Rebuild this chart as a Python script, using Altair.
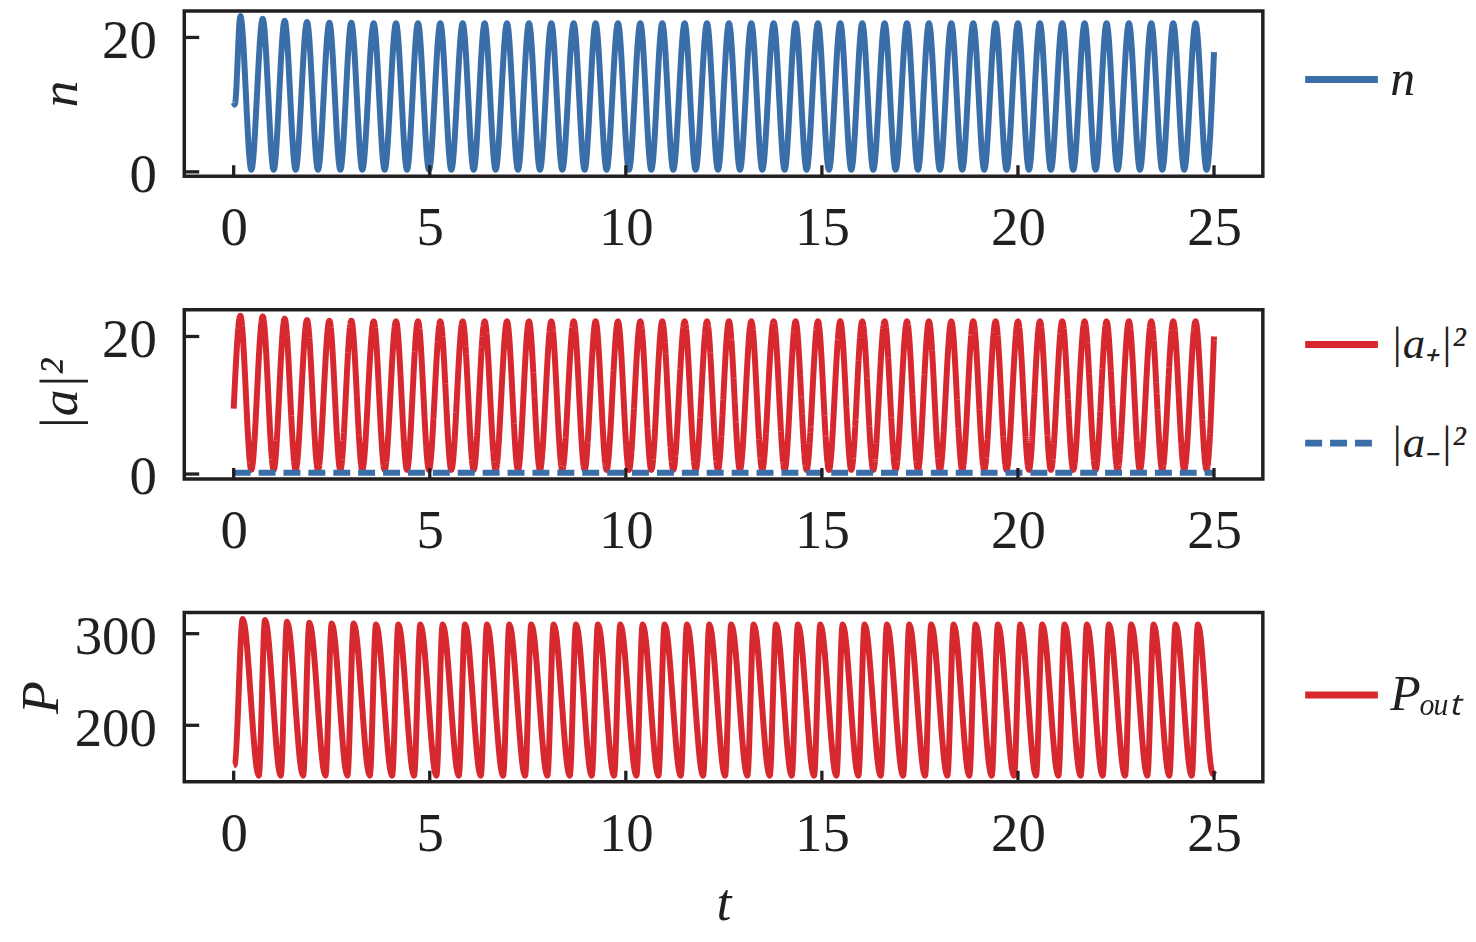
import altair as alt
import pandas as pd

INK = "#231f20"
BLUE = "#3a6ea8"
RED = "#d8282f"
SERIF = "Liberation Serif, Times New Roman, serif"

x_ticks = [0, 5, 10, 15, 20, 25]
n_yticks = [0, 20]
a_yticks = [0, 20]
p_yticks = [200, 300]

# ---- n(t): carrier number ----
n_start_t = [0.0, 0.03]
n_start_v = [10.3, 10.0]
n_peak_t = [0.17, 0.74, 1.30, 1.87, 2.44, 3.00, 3.57, 4.14, 4.70, 5.27, 5.84,
            6.40, 6.97, 7.53, 8.10, 8.67, 9.23, 9.80, 10.37, 10.93, 11.50, 12.07,
            12.63, 13.20, 13.77, 14.33, 14.90, 15.47, 16.03, 16.60, 17.17, 17.73,
            18.30, 18.86, 19.43, 20.00, 20.56, 21.13, 21.70, 22.26, 22.83, 23.40,
            23.96, 24.53]
n_peak_v = [23.2, 22.8, 22.5, 22.3, 22.2, 22.2, 22.1, 22.1, 22.1, 22.1, 22.1,
            22.1, 22.1, 22.1, 22.1, 22.1, 22.1, 22.1, 22.1, 22.1, 22.1, 22.1,
            22.1, 22.1, 22.1, 22.1, 22.1, 22.1, 22.1, 22.1, 22.1, 22.1, 22.1,
            22.1, 22.1, 22.1, 22.1, 22.1, 22.1, 22.1, 22.1, 22.1, 22.1, 22.1]
n_trough_t = [0.45, 1.02, 1.58, 2.15, 2.72, 3.28, 3.85, 4.42, 4.98, 5.55, 6.12,
              6.68, 7.25, 7.81, 8.38, 8.95, 9.51, 10.08, 10.65, 11.21, 11.78, 12.35,
              12.91, 13.48, 14.05, 14.61, 15.18, 15.75, 16.31, 16.88, 17.45, 18.01,
              18.58, 19.14, 19.71, 20.28, 20.84, 21.41, 21.98, 22.54, 23.11, 23.68,
              24.24, 24.81]
n_trough_v = [0.3, 0.3, 0.3, 0.3, 0.3, 0.3, 0.3, 0.3, 0.3, 0.3, 0.3,
              0.3, 0.3, 0.3, 0.3, 0.3, 0.3, 0.3, 0.3, 0.3, 0.3, 0.3,
              0.3, 0.3, 0.3, 0.3, 0.3, 0.3, 0.3, 0.3, 0.3, 0.3, 0.3,
              0.3, 0.3, 0.3, 0.3, 0.3, 0.3, 0.3, 0.3, 0.3, 0.3, 0.3]
n_end_t = [25.0]
n_end_v = [17.8]

# ---- |a+|^2 ----
ap_start_t = [0.0]
ap_start_v = [9.5]
ap_peak_t = n_peak_t
ap_peak_v = [23.0, 22.9, 22.6, 22.4, 22.3, 22.3, 22.2, 22.2, 22.2, 22.2, 22.2,
             22.2, 22.2, 22.2, 22.2, 22.2, 22.2, 22.2, 22.2, 22.2, 22.2, 22.2,
             22.2, 22.2, 22.2, 22.2, 22.2, 22.2, 22.2, 22.2, 22.2, 22.2, 22.2,
             22.2, 22.2, 22.2, 22.2, 22.2, 22.2, 22.2, 22.2, 22.2, 22.2, 22.2]
ap_trough_t = n_trough_t
ap_trough_v = [0.6, 0.6, 0.6, 0.6, 0.6, 0.6, 0.6, 0.6, 0.6, 0.6, 0.6,
               0.6, 0.6, 0.6, 0.6, 0.6, 0.6, 0.6, 0.6, 0.6, 0.6, 0.6,
               0.6, 0.6, 0.6, 0.6, 0.6, 0.6, 0.6, 0.6, 0.6, 0.6, 0.6,
               0.6, 0.6, 0.6, 0.6, 0.6, 0.6, 0.6, 0.6, 0.6, 0.6, 0.6]
ap_end_t = [25.0]
ap_end_v = [20.0]

# ---- |a-|^2 ----
am_t = [0.0, 25.0]
am_v = [0.2, 0.2]

# ---- P_out ----
p_start_t = [0.0, 0.03]
p_start_v = [156, 157]
p_peak_t = [0.23, 0.80, 1.36, 1.93, 2.50, 3.06, 3.63, 4.20, 4.76, 5.33, 5.90,
            6.46, 7.03, 7.59, 8.16, 8.73, 9.29, 9.86, 10.43, 10.99, 11.56, 12.13,
            12.69, 13.26, 13.83, 14.39, 14.96, 15.53, 16.09, 16.66, 17.23, 17.79,
            18.36, 18.92, 19.49, 20.06, 20.62, 21.19, 21.76, 22.32, 22.89, 23.46,
            24.02, 24.59]
p_peak_v = [316, 315, 313, 312, 311, 311, 310, 310, 310, 310, 310,
            310, 310, 310, 310, 310, 310, 310, 310, 310, 310, 310,
            310, 310, 310, 310, 310, 310, 310, 310, 310, 310, 310,
            310, 310, 310, 310, 310, 310, 310, 310, 310, 310, 310]
p_trough_t = [0.64, 1.20, 1.77, 2.34, 2.90, 3.47, 4.04, 4.60, 5.17, 5.74, 6.30,
              6.87, 7.43, 8.00, 8.57, 9.13, 9.70, 10.27, 10.83, 11.40, 11.97, 12.53,
              13.10, 13.67, 14.23, 14.80, 15.37, 15.93, 16.50, 17.07, 17.63, 18.20,
              18.76, 19.33, 19.90, 20.46, 21.03, 21.60, 22.16, 22.73, 23.30, 23.86,
              24.43, 24.97]
p_trough_v = [145, 145, 145, 145, 145, 145, 145, 145, 145, 145, 145,
              145, 145, 145, 145, 145, 145, 145, 145, 145, 145, 145,
              145, 145, 145, 145, 145, 145, 145, 145, 145, 145, 145,
              145, 145, 145, 145, 145, 145, 145, 145, 145, 145, 147]
p_end_t = [25.0]
p_end_v = [150]

S_N = "n"
S_AP = "|a\u208a|\u00b2"
S_AM = "|a\u208b|\u00b2"
S_P = "P\u2092\u1d64\u209c"


def series(name, *pairs):
    t, v = [], []
    for tt, vv in pairs:
        t += list(tt)
        v += list(vv)
    df = pd.DataFrame({"t": t, "v": v})
    df["s"] = name
    return df.sort_values("t").reset_index(drop=True)


df_n = series(S_N, (n_start_t, n_start_v), (n_peak_t, n_peak_v),
              (n_trough_t, n_trough_v), (n_end_t, n_end_v))
df_ap = series(S_AP, (ap_start_t, ap_start_v), (ap_peak_t, ap_peak_v),
               (ap_trough_t, ap_trough_v), (ap_end_t, ap_end_v))
df_am = series(S_AM, (am_t, am_v))
df_p = series(S_P, (p_start_t, p_start_v), (p_peak_t, p_peak_v),
              (p_trough_t, p_trough_v), (p_end_t, p_end_v))

W = 1083
XDOM = [-1.26, 26.245]
LW = 6


def legend(ly, fs):
    return alt.Legend(orient="none", legendX=1122, legendY=ly, title=None,
                      symbolType="stroke", symbolSize=5329, symbolStrokeWidth=7,
                      labelFont=SERIF, labelFontSize=fs, labelFontStyle="italic",
                      labelColor=INK, labelOffset=9, rowPadding=36, padding=0,
                      labelLimit=400)


def panel(layers_df, dom, rng, dashes, yticks, ydom, ytitle, ytx, ly, lfs, xtitle, H):
    if xtitle:
        xaxis = alt.Axis(values=x_ticks, title=xtitle, labelPadding=69,
                         labelBaseline="alphabetic", labelFlush=False,
                         titleY=138, titleBaseline="alphabetic")
    else:
        xaxis = alt.Axis(values=x_ticks, title=None, labelPadding=69,
                         labelBaseline="alphabetic", labelFlush=False)
    xenc = alt.X("t:Q", scale=alt.Scale(domain=XDOM, nice=False, zero=False), axis=xaxis)
    yaxis = alt.Axis(values=yticks, title=ytitle, labelPadding=28,
                     labelBaseline="top", labelOffset=-23,
                     titleX=ytx, titleY=H / 2, titleAngle=270, titleAlign="center",
                     titleBaseline="alphabetic")
    yenc = alt.Y("v:Q", scale=alt.Scale(domain=ydom, nice=False, zero=False), axis=yaxis)
    layers = []
    for d in layers_df:
        enc = dict(
            x=xenc, y=yenc,
            color=alt.Color("s:N", scale=alt.Scale(domain=dom, range=rng), legend=legend(ly, lfs)),
        )
        if dashes is not None:
            enc["strokeDash"] = alt.StrokeDash("s:N", scale=alt.Scale(domain=dom, range=dashes),
                                               legend=legend(ly, lfs))
        layers.append(alt.Chart(d).mark_line(strokeWidth=LW, interpolate="monotone").encode(**enc))
    xt = alt.Chart(pd.DataFrame({"t": x_ticks})).mark_rule(color=INK, strokeWidth=3.3).encode(
        x=xenc, y=alt.value(H), y2=alt.value(H - 11))
    yt = alt.Chart(pd.DataFrame({"v": yticks})).mark_rule(color=INK, strokeWidth=3.3).encode(
        y=yenc, x=alt.value(0), x2=alt.value(15))
    return alt.layer(*layers, xt, yt).properties(width=W, height=H)


p1 = panel([df_n], [S_N], [BLUE], None, n_yticks, [-0.65, 23.95], "n", -108, 29, 50, None, 166)
p2 = panel([df_ap, df_am], [S_AP, S_AM], [RED, BLUE], [[1, 0], [17, 8]], a_yticks,
           [-0.72, 23.9], "|a|\u00b2", -108, -5, 45, None, 170)
p3 = panel([df_p], [S_P], [RED], None, p_yticks, [138.4, 323.2], "P", -127, 43, 50, "t", 170)

chart = alt.vconcat(p1, p2, p3, spacing=134, bounds="flush").resolve_scale(
    x="independent", y="independent", color="independent", strokeDash="independent"
).resolve_legend(color="independent", strokeDash="independent").properties(
    padding={"left": 5, "top": -8, "right": 0, "bottom": 0}
).configure_view(stroke=INK, strokeWidth=3.5).configure_axis(
    labelFont=SERIF, labelFontSize=55, labelColor=INK,
    titleFont=SERIF, titleFontSize=54, titleColor=INK, titleFontStyle="italic",
    titleFontWeight="normal", grid=False, domain=False, ticks=False, tickSize=0
)

chart.save("out.html", embed_options={"renderer": "svg", "actions": False})
